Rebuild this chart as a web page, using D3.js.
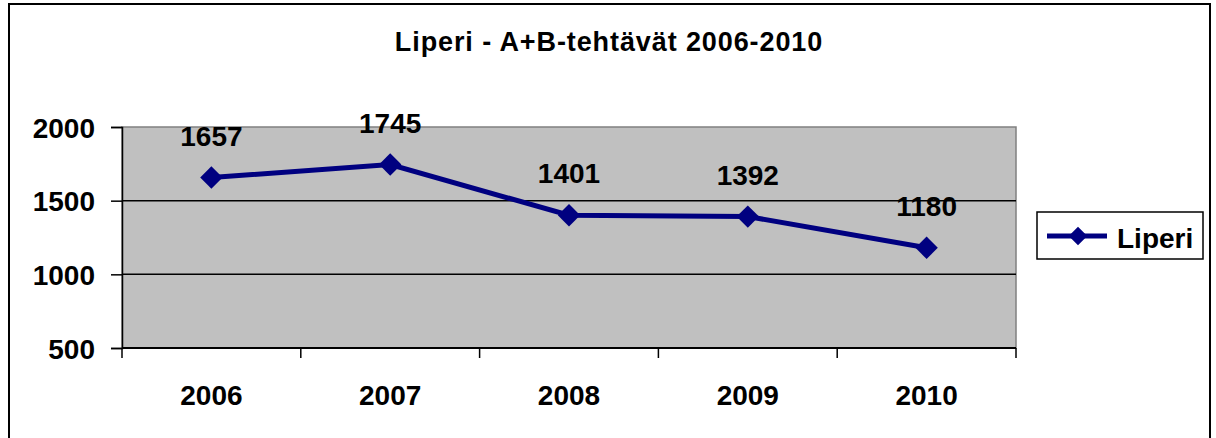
<!DOCTYPE html>
<meta charset="UTF-8">
<script src="https://d3js.org/d3.v7.min.js"></script>
<style>
  body { margin: 0; background: #fff; }
  text { font-family: "Liberation Sans", Arial, sans-serif; font-weight: bold; }
</style>
<svg id="chart" width="1216" height="438"></svg>
<script>
// data
var years = ["2006", "2007", "2008", "2009", "2010"];
var values = [1657, 1745, 1401, 1392, 1180];
var yTicks = [500, 1000, 1500, 2000];
var seriesName = "Liperi";
var title = "Liperi - A+B-tehtävät 2006-2010";

var svg = d3.select("#chart");

// outer chart border
svg.append("rect")
  .attr("x", 9).attr("y", 4)
  .attr("width", 1201).attr("height", 440)
  .attr("fill", "#fff").attr("stroke", "#000").attr("stroke-width", 2);

var plot = { left: 122, top: 127, right: 1016, bottom: 348 };

var x = d3.scaleBand().domain(years).range([plot.left, plot.right]);
var y = d3.scaleLinear().domain([500, 2000]).range([plot.bottom, plot.top]);

// plot background
svg.append("rect")
  .attr("x", plot.left).attr("y", plot.top)
  .attr("width", plot.right - plot.left).attr("height", plot.bottom - plot.top)
  .attr("fill", "#c0c0c0").attr("stroke", "#808080").attr("stroke-width", 1.5);

// gridlines
svg.append("g").selectAll("line")
  .data(yTicks.filter(function(d) { return d > 500 && d < 2000; }))
  .enter().append("line")
  .attr("x1", plot.left).attr("x2", plot.right)
  .attr("y1", function(d) { return y(d); }).attr("y2", function(d) { return y(d); })
  .attr("stroke", "#000").attr("stroke-width", 1.5);

// y axis
var yAxis = svg.append("g")
  .attr("transform", "translate(" + plot.left + ",0)")
  .call(d3.axisLeft(y).tickValues(yTicks).tickFormat(d3.format("d")).tickSize(11).tickPadding(16));
yAxis.select(".domain").attr("stroke", "#000").attr("stroke-width", 1.5);
yAxis.selectAll(".tick line").attr("stroke", "#000").attr("stroke-width", 1.5);
yAxis.selectAll("text")
  .style("font-size", "28px").attr("fill", "#000").attr("dy", "0.36em");

// x axis with ticks between categories
var xAxisG = svg.append("g").attr("transform", "translate(0," + plot.bottom + ")");
xAxisG.append("line")
  .attr("x1", plot.left).attr("x2", plot.right)
  .attr("stroke", "#000").attr("stroke-width", 2);
var bounds = years.map(function(d) { return x(d); }).concat([plot.right]);
xAxisG.selectAll(".xt").data(bounds).enter().append("line")
  .attr("x1", function(d) { return d; }).attr("x2", function(d) { return d; })
  .attr("y1", 0).attr("y2", 10)
  .attr("stroke", "#000").attr("stroke-width", 1.5);
xAxisG.selectAll(".xl").data(years).enter().append("text")
  .attr("x", function(d) { return x(d) + x.bandwidth() / 2; })
  .attr("y", 57)
  .attr("text-anchor", "middle")
  .style("font-size", "28px")
  .text(function(d) { return d; });

// line
var cx = function(i) { return x(years[i]) + x.bandwidth() / 2; };
var line = d3.line()
  .x(function(d, i) { return cx(i); })
  .y(function(d) { return y(d); });
svg.append("path")
  .datum(values)
  .attr("d", line)
  .attr("fill", "none").attr("stroke", "#000080").attr("stroke-width", 5);

var diamond = d3.symbol().type(d3.symbolDiamond2).size(320);
svg.selectAll(".pt").data(values).enter().append("path")
  .attr("transform", function(d, i) { return "translate(" + cx(i) + "," + y(d) + ")"; })
  .attr("d", diamond)
  .attr("fill", "#000080");

// data labels
svg.selectAll(".lbl").data(values).enter().append("text")
  .attr("x", function(d, i) { return cx(i); })
  .attr("y", function(d) { return y(d) - 32; })
  .attr("text-anchor", "middle")
  .style("font-size", "28px")
  .text(function(d) { return d; });

// title
svg.append("text")
  .attr("x", 609).attr("y", 51)
  .attr("text-anchor", "middle")
  .style("font-size", "27px")
  .style("letter-spacing", "0.9px")
  .text(title);

// legend
var lg = svg.append("g").attr("transform", "translate(1037,212)");
lg.append("rect").attr("width", 166).attr("height", 47)
  .attr("fill", "#fff").attr("stroke", "#000").attr("stroke-width", 1.5);
lg.append("line").attr("x1", 10).attr("x2", 70).attr("y1", 24).attr("y2", 24)
  .attr("stroke", "#000080").attr("stroke-width", 5);
lg.append("path").attr("transform", "translate(41,24)")
  .attr("d", d3.symbol().type(d3.symbolDiamond2).size(220)).attr("fill", "#000080");
lg.append("text").attr("x", 80).attr("y", 36).style("font-size", "28px").text(seriesName);
</script>
